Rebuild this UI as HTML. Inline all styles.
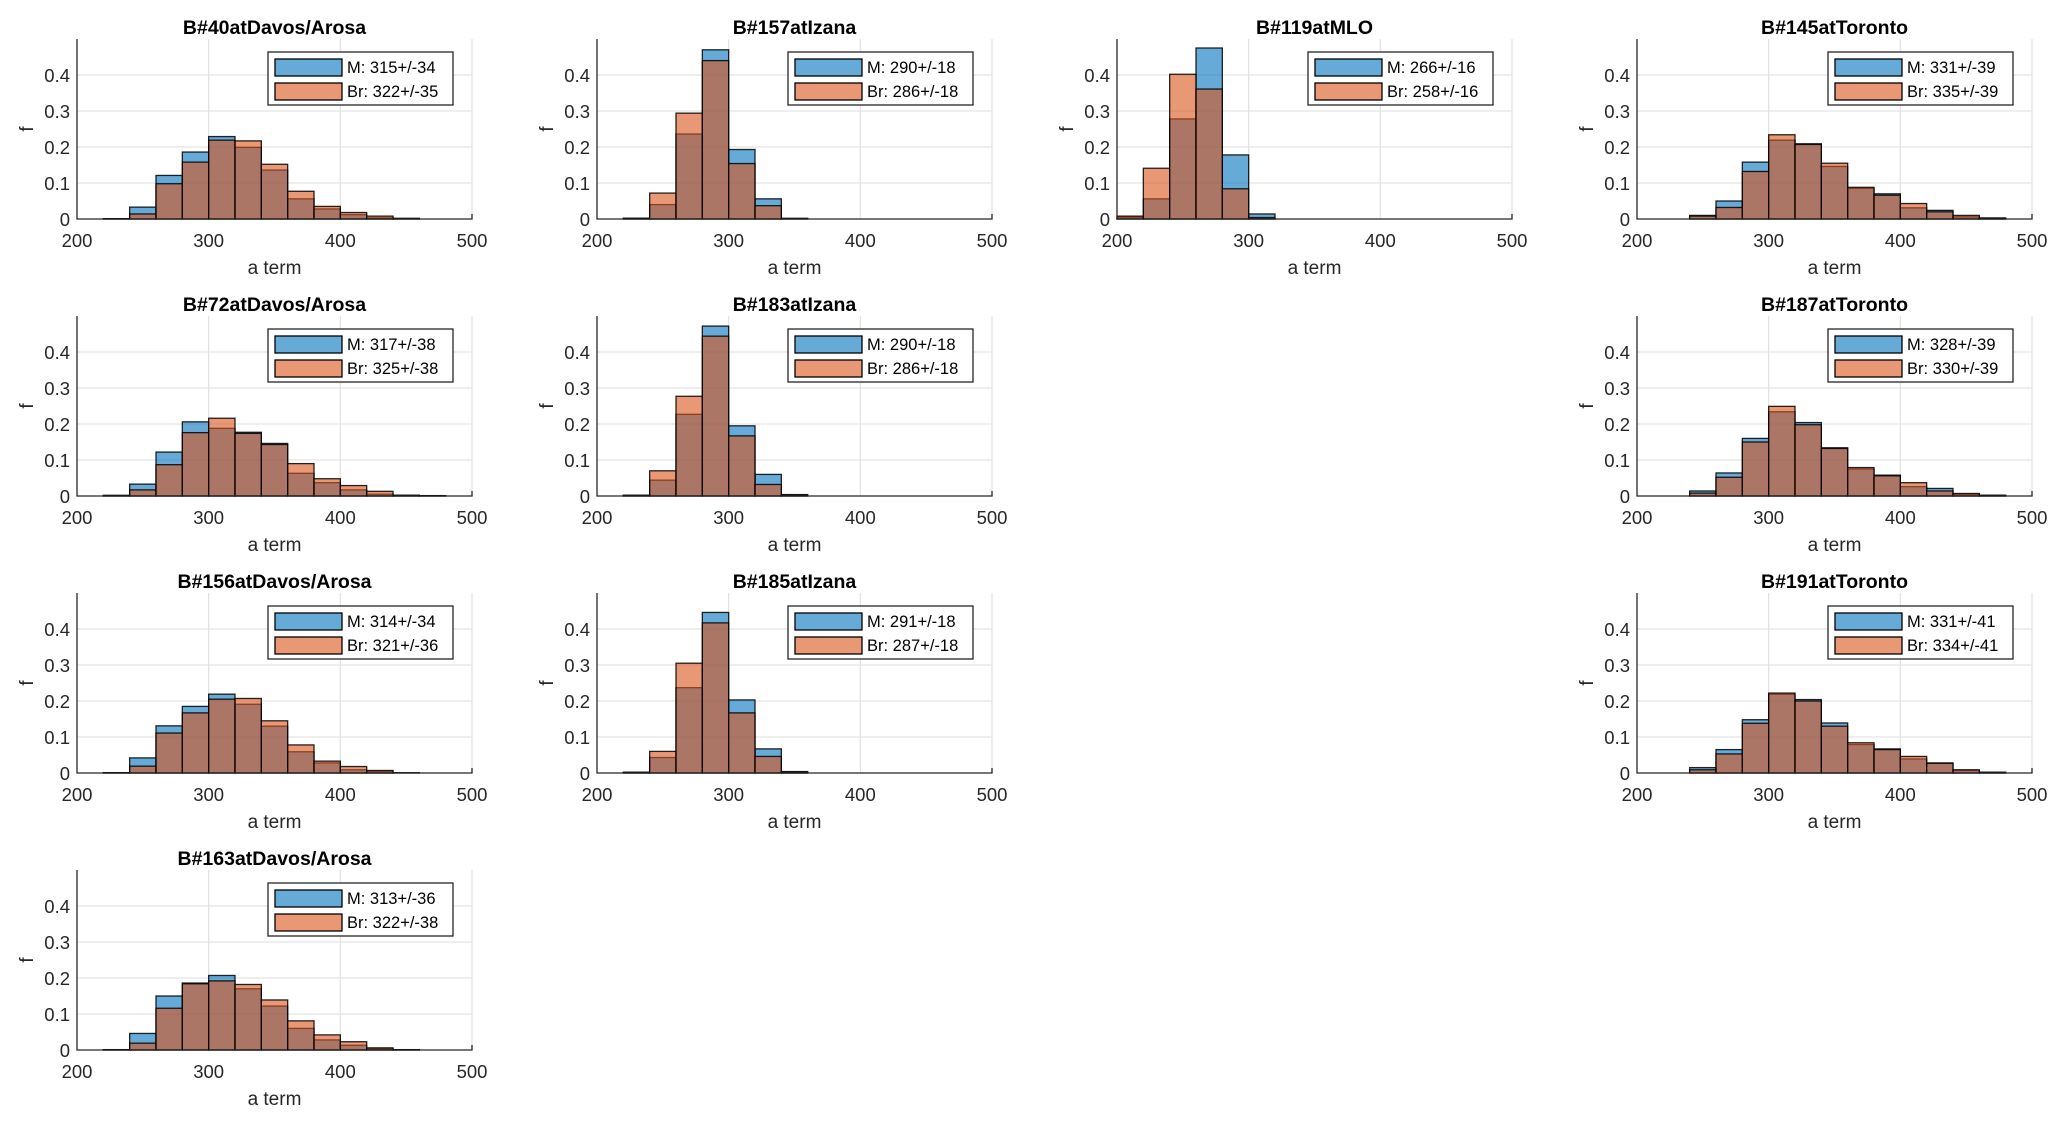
<!DOCTYPE html>
<html><head><meta charset="utf-8"><style>
html,body{margin:0;padding:0;background:#fff;}
svg{display:block;font-family:"Liberation Sans",Arial,sans-serif;}
</style></head><body>
<svg id="fig" width="2067" height="1122" viewBox="0 0 2067 1122" xmlns="http://www.w3.org/2000/svg"></svg>
<script>
const binEdges = [200,220,240,260,280,300,320,340,360,380,400,420,440,460,480,500];
const xTicks = [200,300,400,500];
const yTicks = [0,0.1,0.2,0.3,0.4];
const yTickLabels = ["0","0.1","0.2","0.3","0.4"];
const titles = ["B#40atDavos/Arosa","B#157atIzana","B#119atMLO","B#145atToronto","B#72atDavos/Arosa","B#183atIzana","B#187atToronto","B#156atDavos/Arosa","B#185atIzana","B#191atToronto","B#163atDavos/Arosa"];
const panelCols = [0,1,2,3,0,1,3,0,1,3,0];
const panelRows = [0,0,0,0,1,1,1,2,2,2,3];
const mLabels = ["M: 315+/-34","M: 290+/-18","M: 266+/-16","M: 331+/-39","M: 317+/-38","M: 290+/-18","M: 328+/-39","M: 314+/-34","M: 291+/-18","M: 331+/-41","M: 313+/-36"];
const brLabels = ["Br: 322+/-35","Br: 286+/-18","Br: 258+/-16","Br: 335+/-39","Br: 325+/-38","Br: 286+/-18","Br: 330+/-39","Br: 321+/-36","Br: 287+/-18","Br: 334+/-41","Br: 322+/-38"];
const mValues = [
[0,0.001,0.033,0.121,0.186,0.229,0.199,0.136,0.056,0.028,0.012,0.003,0.001,0,0],
[0,0.002,0.04,0.236,0.47,0.193,0.056,0.002,0,0,0,0,0,0,0],
[0.005,0.056,0.278,0.475,0.178,0.014,0,0,0,0,0,0,0,0,0],
[0,0,0.01,0.05,0.158,0.219,0.209,0.146,0.085,0.07,0.031,0.024,0.006,0.002,0],
[0,0.002,0.033,0.122,0.206,0.188,0.177,0.146,0.063,0.037,0.017,0.005,0.002,0.001,0],
[0,0.002,0.044,0.227,0.472,0.195,0.06,0.004,0,0,0,0,0,0,0],
[0,0,0.014,0.064,0.16,0.234,0.204,0.134,0.075,0.058,0.026,0.021,0.005,0.002,0],
[0,0.001,0.042,0.131,0.185,0.219,0.191,0.13,0.059,0.028,0.009,0.005,0,0,0],
[0,0.002,0.043,0.237,0.446,0.203,0.067,0.004,0,0,0,0,0,0,0],
[0,0,0.015,0.065,0.148,0.219,0.204,0.139,0.079,0.067,0.039,0.028,0.007,0.002,0],
[0,0.001,0.046,0.15,0.186,0.207,0.17,0.122,0.06,0.028,0.013,0.004,0.001,0,0]
];
const brValues = [
[0,0.001,0.014,0.098,0.158,0.219,0.217,0.152,0.077,0.035,0.018,0.008,0.002,0,0],
[0,0.002,0.072,0.294,0.44,0.154,0.037,0.001,0,0,0,0,0,0,0],
[0.008,0.141,0.402,0.361,0.084,0.004,0,0,0,0,0,0,0,0,0],
[0,0,0.008,0.032,0.132,0.234,0.207,0.155,0.088,0.066,0.043,0.02,0.01,0.003,0],
[0,0.001,0.017,0.087,0.176,0.216,0.174,0.143,0.09,0.048,0.029,0.013,0.002,0.001,0],
[0,0.002,0.07,0.277,0.444,0.167,0.032,0.002,0,0,0,0,0,0,0],
[0,0,0.008,0.052,0.15,0.249,0.198,0.132,0.079,0.056,0.037,0.014,0.007,0.002,0],
[0,0.001,0.019,0.111,0.167,0.205,0.207,0.145,0.078,0.033,0.018,0.007,0.001,0,0],
[0,0.002,0.06,0.305,0.417,0.167,0.046,0.002,0,0,0,0,0,0,0],
[0,0,0.009,0.053,0.138,0.222,0.2,0.13,0.084,0.065,0.046,0.027,0.009,0.002,0],
[0,0.001,0.019,0.116,0.184,0.192,0.182,0.139,0.081,0.042,0.023,0.006,0.001,0,0]
];

const NS = "http://www.w3.org/2000/svg";
const fig = document.getElementById('fig');
function mk(tag, attrs, parent, text){
  const e = document.createElementNS(NS, tag);
  for (const k in attrs) e.setAttribute(k, attrs[k]);
  if (text !== undefined) e.textContent = text;
  parent.appendChild(e);
  return e;
}
const W = 395, H = 180, XMIN = 200, XMAX = 500, YMAX = 0.5;

for (let p = 0; p < titles.length; p++) {
  const left = 77 + 520 * panelCols[p];
  const bottom = 219 + 277 * panelRows[p];
  const sx = v => left + (v - XMIN) / (XMAX - XMIN) * W;
  const sy = v => bottom - v / YMAX * H;
  const g = mk('g', {}, fig);
  
  

  // grid
  for (const t of xTicks) {
    if (t === XMIN) continue;
    const l = mk('line', {x1: sx(t), x2: sx(t), y1: sy(YMAX), y2: bottom, stroke: '#e3e3e3', 'stroke-width': 1.3}, g);
    
    
  }
  for (const t of yTicks) {
    if (t === 0) continue;
    const l = mk('line', {x1: left, x2: left + W, y1: sy(t), y2: sy(t), stroke: '#e3e3e3', 'stroke-width': 1.3}, g);
    
    
  }

  // bars
  const series = [[mValues[p], '#0072BD', 'bar-m'], [brValues[p], '#D95319', 'bar-br']];
  for (const [vals, col, nm] of series) {
    for (let i = 0; i < vals.length; i++) {
      if (vals[i] <= 0) continue;
      const x0 = sx(binEdges[i]), x1 = sx(binEdges[i + 1]);
      const r = mk('rect', {x: x0, y: sy(vals[i]), width: x1 - x0, height: bottom - sy(vals[i]),
        fill: col, 'fill-opacity': 0.6, stroke: '#000', 'stroke-opacity': 0.85, 'stroke-width': 1.3}, g);
      
      
    }
  }

  // axes
  const ax = mk('path', {d: `M${left} ${sy(YMAX)} V${bottom} H${left + W} V${bottom - 5}`, fill: 'none', stroke: '#262626', 'stroke-width': 1.3}, g);
  
  

  for (const t of xTicks) {
    const tl = mk('text', {x: sx(t), y: bottom + 28, 'text-anchor': 'middle', 'font-size': 18.5, fill: '#262626'}, g, String(t));
    
    
  }
  for (let i = 0; i < yTicks.length; i++) {
    const tl = mk('text', {x: left - 7, y: sy(yTicks[i]) + 7, 'text-anchor': 'end', 'font-size': 18.5, fill: '#262626'}, g, yTickLabels[i]);
    
    
  }
  const xl = mk('text', {x: left + W / 2, y: bottom + 55, 'text-anchor': 'middle', 'font-size': 19, fill: '#262626'}, g, 'a term');
  
  
  const yl = mk('text', {x: 0, y: 0, transform: `translate(${left - 44},${bottom - H / 2}) rotate(-90)`, 'text-anchor': 'middle', 'font-size': 19, fill: '#262626'}, g, 'f');
  
  
  const tt = mk('text', {x: left + W / 2, y: bottom - 185, 'text-anchor': 'middle', 'font-size': 19.5, 'font-weight': 'bold', fill: '#000'}, g, titles[p]);
  
  

  // legend
  const lg = mk('g', {}, g);
  
  
  const lx = left + 191, ly = bottom - 167;
  mk('rect', {x: lx, y: ly, width: 185, height: 53, fill: '#fff', stroke: '#262626', 'stroke-width': 1.3}, lg);
  const entries = [[mLabels[p], '#0072BD'], [brLabels[p], '#D95319']];
  for (let k = 0; k < 2; k++) {
    const cy = ly + 15 + 24 * k;
    const sw = mk('rect', {x: lx + 7, y: cy - 8, width: 67, height: 17, fill: entries[k][1], 'fill-opacity': 0.6, stroke: '#000', 'stroke-width': 1.3}, lg);
    
    
    const lt = mk('text', {x: lx + 79, y: cy + 6, 'font-size': 16.5, fill: '#000'}, lg, entries[k][0]);
    
    
  }
}
</script>
</body></html>
